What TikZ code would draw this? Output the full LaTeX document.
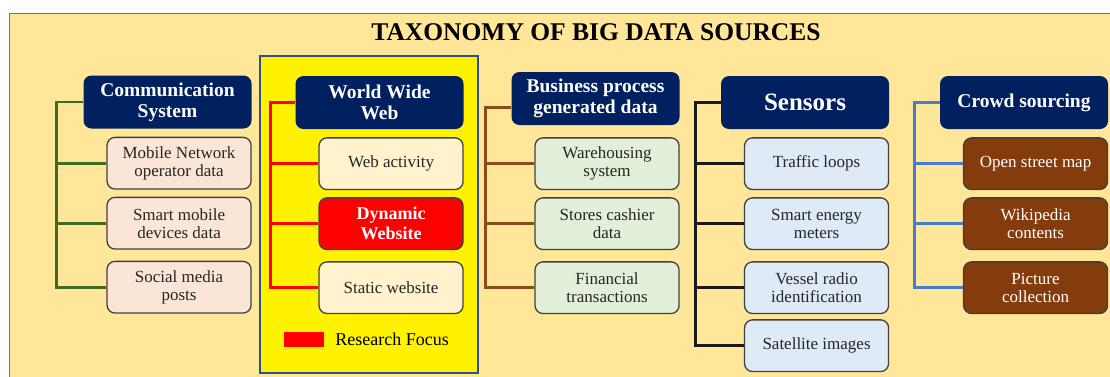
\documentclass[tikz,border=0pt]{standalone}
\usepackage{fontspec}
\setmainfont{Liberation Serif}
\usetikzlibrary{positioning,calc}
\definecolor{bgSand}{HTML}{FFE699}
\definecolor{frameBlue}{HTML}{4472C4}
\definecolor{panelBlue}{HTML}{2F4F8F}
\definecolor{navy}{HTML}{002060}
\definecolor{peach}{HTML}{FBE5D6}
\definecolor{cream}{HTML}{FFF2CC}
\definecolor{mint}{HTML}{E2F0D9}
\definecolor{ice}{HTML}{DEEBF7}
\definecolor{rust}{HTML}{843C0C}
\definecolor{olive}{HTML}{3F6B25}
\definecolor{bark}{HTML}{8F4A1A}
\definecolor{linkBlue}{HTML}{4A7BD0}

\begin{document}
\begin{tikzpicture}[
  x=1pt, y=-1pt,
  node distance=7pt,
  head/.style={fill=navy, text=white, rounded corners=8pt, align=center, minimum width=168pt, minimum height=53pt, inner sep=2pt, font=\fontsize{19.5}{21}\selectfont\bfseries},
  leaf/.style={draw=black!75, line width=1.3pt, rounded corners=8pt, align=center, minimum width=144pt, minimum height=51.7pt, inner sep=2pt, text=black!85, font=\fontsize{17}{18}\selectfont},
  spine/.style={line width=2.8pt}
]
\useasboundingbox (0,0) rectangle (1110,376);
% page and outer frame
\fill[white] (0,0) rectangle (1110,376);
\fill[bgSand] (9.6,13.3) rectangle (1112,378);
\draw[frameBlue, line width=1.5pt] (1112,13.3) -- (9.6,13.3) -- (9.6,378);
% highlighted column
\draw[panelBlue, line width=1.3pt, fill=yellow] (260,56) rectangle (478,373);

\node[font=\fontsize{25.5}{27}\selectfont\bfseries] (title) at (596,32) {TAXONOMY OF BIG DATA SOURCES};

% category headers
\node[head] (comm) at (167.5,102) {Communication\\System};
\node[head] (www) at (379.5,102.5) {World Wide\\Web};
\node[head] (biz) at (595.5,98.5) {Business process\\generated data};
\node[head, font=\fontsize{25}{27}\selectfont\bfseries] (sens) at (805,102.5) {Sensors};
\node[head] (crowd) at (1024,102.5) {Crowd sourcing};

% communication system
\node[leaf, fill=peach, below=8pt of comm.south east, anchor=north east] (mobile) {Mobile Network\\operator data};
\node[leaf, fill=peach, below=of mobile] (smart) {Smart mobile\\devices data};
\node[leaf, fill=peach, below=11pt of smart] (social) {Social media\\posts};

% world wide web
\node[leaf, fill=cream, below=8pt of www.south east, anchor=north east] (webact) {Web activity};
\node[leaf, fill=red, text=white, below=of webact, font=\fontsize{18}{20}\selectfont\bfseries] (dynamic) {Dynamic\\Website};
\node[leaf, fill=cream, below=11pt of dynamic] (static) {Static website};
\node[fill=red, minimum width=40pt, minimum height=15pt, inner sep=0pt] (key) at (304,339.5) {};
\node[right=11pt of key, inner sep=0pt, font=\fontsize{18}{20}\selectfont] (keytext) {Research Focus};

% business process
\node[leaf, fill=mint, below=12pt of biz.south east, anchor=north east] (ware) {Warehousing\\system};
\node[leaf, fill=mint, below=of ware] (cashier) {Stores cashier\\data};
\node[leaf, fill=mint, below=11pt of cashier] (finance) {Financial\\transactions};

% sensors
\node[leaf, fill=ice, below=8pt of sens.south east, anchor=north east] (traffic) {Traffic loops};
\node[leaf, fill=ice, below=of traffic] (energy) {Smart energy\\meters};
\node[leaf, fill=ice, below=11pt of energy] (vessel) {Vessel radio\\identification};
\node[leaf, fill=ice, below=5pt of vessel] (sat) {Satellite images};

% crowd sourcing
\node[leaf, fill=rust, text=white, below=8pt of crowd.south east, anchor=north east] (osm) {Open street map};
\node[leaf, fill=rust, text=white, below=of osm] (wiki) {Wikipedia\\contents};
\node[leaf, fill=rust, text=white, below=11pt of wiki] (pics) {Picture\\collection};

% tree connectors
\draw[spine, olive] (comm.west) -- ++(-27,0) coordinate (cs) |- (social.west);
\foreach \n in {mobile,smart} \draw[spine, olive] (cs |- \n.west) -- (\n.west);
\draw[spine, red] (www.west) -- ++(-25,0) coordinate (ws) |- (static.west);
\foreach \n in {webact,dynamic} \draw[spine, red] (ws |- \n.west) -- (\n.west);
\draw[spine, bark] ([yshift=-9pt]biz.west) -- ++(-26,0) coordinate (bs) |- (finance.west);
\foreach \n in {ware,cashier} \draw[spine, bark] (bs |- \n.west) -- (\n.west);
\draw[spine, black!90] (sens.west) -- ++(-25,0) coordinate (ss) |- (sat.west);
\foreach \n in {traffic,energy,vessel} \draw[spine, black!90] (ss |- \n.west) -- (\n.west);
\draw[spine, linkBlue] (crowd.west) -- ++(-25,0) coordinate (rs) |- (pics.west);
\foreach \n in {osm,wiki} \draw[spine, linkBlue] (rs |- \n.west) -- (\n.west);
\end{tikzpicture}
\end{document}
